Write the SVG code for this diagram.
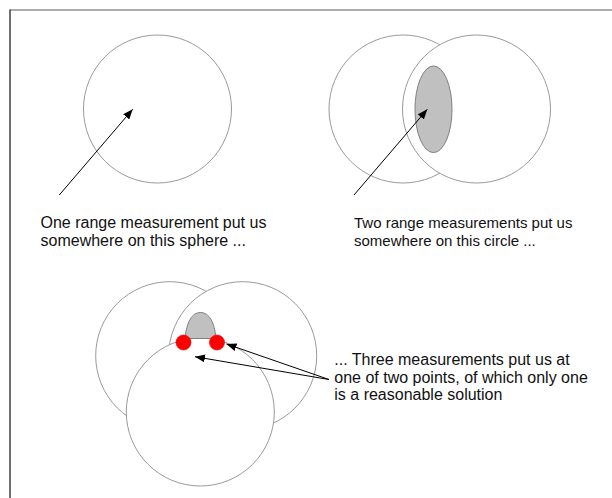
<svg xmlns="http://www.w3.org/2000/svg" width="612" height="498" viewBox="0 0 612 498">
<style>
.c{fill:#fff;stroke:#9a9a9a;stroke-width:1}
.g{fill:#c0c0c0;stroke:#808080;stroke-width:1}
.r{fill:#ff0000;stroke:#e00000;stroke-width:0.5}
.a{fill:none;stroke:#000;stroke-width:1;marker-end:url(#ah)}
.t{font-family:"Liberation Sans",Arial,sans-serif;font-size:16px;fill:#111}
</style>
<defs>
<marker id="ah" viewBox="0 0 10 8" refX="10" refY="4" markerWidth="10" markerHeight="8" markerUnits="userSpaceOnUse" orient="auto">
<path d="M0,0 L10,4 L0,8 Z" fill="#000"/>
</marker>
</defs>
<rect width="612" height="498" fill="#fff"/>
<g id="frame">
<line x1="10" y1="10" x2="612" y2="10" stroke="#909090" stroke-width="1.5"/>
<line x1="10" y1="9.5" x2="10" y2="498" stroke="#404040" stroke-width="1.5"/>
</g>
<g id="sphere1">
<circle class="c" cx="157.5" cy="109" r="74"/>
</g>
<g id="sphere2a">
<circle class="c" cx="403" cy="109" r="74"/>
</g>
<g id="sphere2b">
<circle class="c" cx="476.5" cy="109" r="74"/>
<ellipse class="g" cx="433.5" cy="109.3" rx="18.5" ry="43.3"/>
</g>
<g id="sphere3a">
<circle class="c" cx="169.7" cy="355.7" r="74"/>
</g>
<g id="sphere3b">
<circle class="c" cx="242.7" cy="355.7" r="74"/>
</g>
<g id="sphere3c">
<circle class="c" cx="200.3" cy="412" r="74"/>
<path class="g" d="M185,338.5 C186.5,322 192,312.5 200.5,312.5 C209,312.5 214.5,322 216,338.5 Z"/>
</g>
<g id="point1"><circle class="r" cx="183.5" cy="342.5" r="7.6"/></g>
<g id="point2"><circle class="r" cx="217" cy="342.5" r="7.6"/></g>
<g id="connectors">
<line class="a" x1="59.3" y1="195" x2="132.7" y2="109.3"/>
<line class="a" x1="354" y1="195" x2="427.3" y2="109.3"/>
<line class="a" x1="329" y1="379.5" x2="226.5" y2="344"/>
<line class="a" x1="329" y1="379.5" x2="195" y2="356.7"/>
</g>
<g id="label1">
<text class="t" x="40.5" y="227.5">One range measurement put us</text>
<text class="t" x="40.5" y="245.5">somewhere on this sphere ...</text>
</g>
<g id="label2">
<text class="t" x="354" y="227.5" style="font-size:15px">Two range measurements put us</text>
<text class="t" x="354" y="245.5" style="font-size:15px">somewhere on this circle ...</text>
</g>
<g id="label3">
<text class="t" x="334.3" y="365">... Three measurements put us at</text>
<text class="t" x="334.3" y="382.5">one of two points, of which only one</text>
<text class="t" x="334.3" y="400">is a reasonable solution</text>
</g>
</svg>
